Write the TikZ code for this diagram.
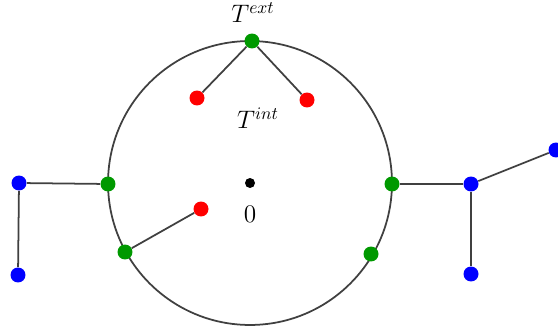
\documentclass[tikz,border=0pt]{standalone}
\begin{document}
\begin{tikzpicture}[
  x=0.02cm, y=-0.02cm,
  vertex/.style={circle, inner sep=0pt, minimum size=0.3cm},
  extvertex/.style={vertex, fill=green!60!black},
  intvertex/.style={vertex, fill=red},
  leafvertex/.style={vertex, fill=blue},
  edge/.style={draw=black!75, line width=1pt},
  tlabel/.style={font=\Large}
]
\useasboundingbox (0,0) rectangle (558,331);
\coordinate (center) at (250,183);
\draw[edge] (center) circle[radius=2.84cm];

\node[vertex, fill=black, minimum size=0.2cm] (origin) at (center) {};
\node[tlabel] (zero) at (250,214) {$0$};
\node[tlabel] (text) at (253,13) {$T^{ext}$};
\node[tlabel] (tint) at (258,118) {$T^{int}$};

\node[extvertex] (g1) at (252,41) {};
\node[extvertex] (g2) at (108,184) {};
\node[extvertex] (g3) at (125,252) {};
\node[extvertex] (g4) at (392,184) {};
\node[extvertex] (g5) at (371,254) {};

\node[intvertex] (r1) at (197,98) {};
\node[intvertex] (r2) at (307,100) {};
\node[intvertex] (r3) at (201,209) {};

\node[leafvertex] (b1) at (19,183) {};
\node[leafvertex] (b2) at (18,275) {};
\node[leafvertex] (b3) at (471,184) {};
\node[leafvertex] (b4) at (556,150) {};
\node[leafvertex] (b5) at (471,274) {};

\draw[edge] (g1) -- (r1);
\draw[edge] (g1) -- (r2);
\draw[edge] (g3) -- (r3);
\draw[edge] (g2) -- (b1);
\draw[edge] (b1) -- (b2);
\draw[edge] (g4) -- (b3);
\draw[edge] (b3) -- (b4);
\draw[edge] (b3) -- (b5);
\end{tikzpicture}
\end{document}
